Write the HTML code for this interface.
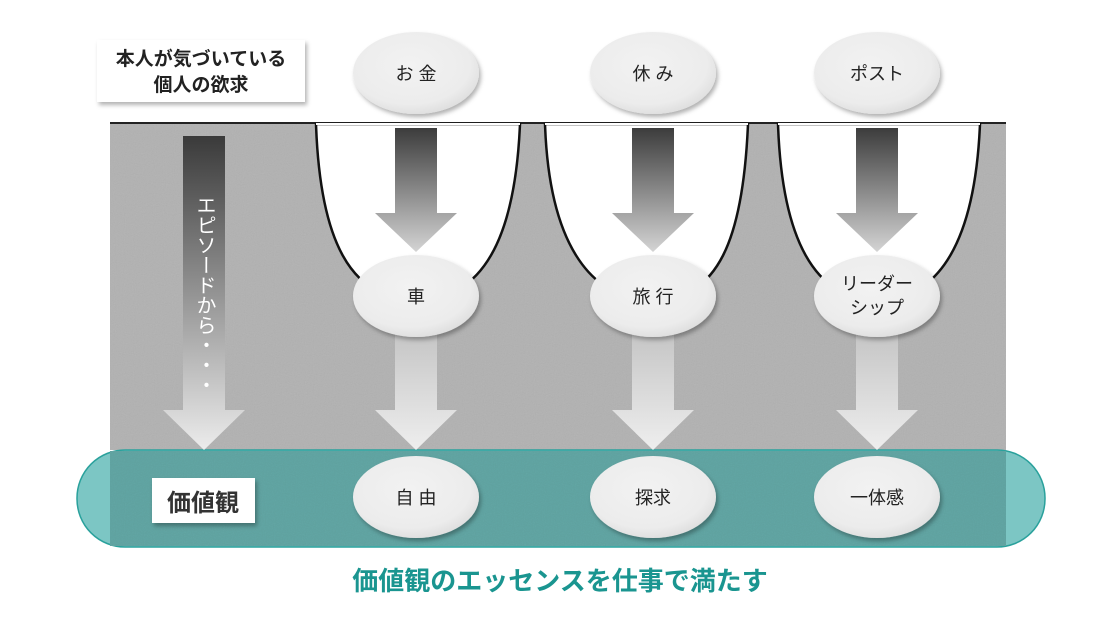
<!DOCTYPE html>
<html><head><meta charset="utf-8"><style>
html,body{margin:0;padding:0;background:#fff;}
svg{display:block;}
text{font-family:"Liberation Sans","Noto Sans CJK JP",sans-serif;}
</style></head><body>
<svg width="1120" height="632" viewBox="0 0 1120 632" xmlns="http://www.w3.org/2000/svg">
<defs>
<filter id="noise" x="0" y="0" width="100%" height="100%">
<feTurbulence type="fractalNoise" baseFrequency="0.9" numOctaves="2" seed="3" result="n"/>
<feColorMatrix type="saturate" values="0" in="n" result="g"/>
<feComponentTransfer in="g" result="g2"><feFuncA type="linear" slope="0" intercept="0.15"/></feComponentTransfer>
<feBlend in="SourceGraphic" in2="g2" mode="multiply"/>
</filter>
<linearGradient id="ga" x1="0" y1="0" x2="0" y2="1"><stop offset="0" stop-color="#3c3c3c"/><stop offset="1" stop-color="#d4d4d4"/></linearGradient>
<linearGradient id="gb" x1="0" y1="0" x2="0" y2="1"><stop offset="0" stop-color="#c4c4c4"/><stop offset="1" stop-color="#eeeeee"/></linearGradient>
<linearGradient id="gl" x1="0" y1="0" x2="0" y2="1"><stop offset="0" stop-color="#3a3a3a"/><stop offset="1" stop-color="#ececec"/></linearGradient>
<radialGradient id="ge" cx="0.45" cy="0.4" r="0.6"><stop offset="0" stop-color="#f2f2f2"/><stop offset="0.8" stop-color="#ececec"/><stop offset="1" stop-color="#e0e0e0"/></radialGradient>
<filter id="sh" x="-20%" y="-20%" width="150%" height="150%"><feDropShadow dx="2" dy="3" stdDeviation="2" flood-color="#000" flood-opacity="0.3"/></filter>
</defs>
<rect x="110" y="122" width="896" height="328" fill="#b8b8b8" filter="url(#noise)"/>
<line x1="110" y1="123" x2="1006" y2="123" stroke="#222" stroke-width="2"/>
<rect x="77" y="450" width="968" height="97" rx="48" fill="#7cc6c4" stroke="#2aa19c" stroke-width="1.5"/>
<rect x="110" y="451" width="896" height="95" fill="#64a9a7" filter="url(#noise)"/>
<g fill="#fff" stroke="#111" stroke-width="2.5">
<path d="M316,124 C320,240 350,300 416,300 C482,300 515,240 520,124 Z"/>
<path d="M545,124 C549,240 588,300 653,300 C718,300 743,240 748,124 Z"/>
<path d="M778,124 C782,240 815,300 877,300 C940,300 975,240 980,124 Z"/>
</g>
<line x1="316" y1="124" x2="520" y2="124" stroke="#fff" stroke-width="2"/>
<line x1="545" y1="124" x2="748" y2="124" stroke="#fff" stroke-width="2"/>
<line x1="778" y1="124" x2="980" y2="124" stroke="#fff" stroke-width="2"/>
<g fill="url(#ga)">
<path d="M395,128 H437 V213 H457 L416,252 L375,213 H395 Z"/>
<path d="M632,128 H674 V213 H694 L653,252 L612,213 H632 Z"/>
<path d="M856,128 H898 V213 H918 L877,252 L836,213 H856 Z"/>
</g>
<g fill="url(#gb)">
<path d="M395,330 H437 V410 H457 L416,450 L375,410 H395 Z"/>
<path d="M632,330 H674 V410 H694 L653,450 L612,410 H632 Z"/>
<path d="M856,330 H898 V410 H918 L877,450 L836,410 H856 Z"/>
</g>
<path d="M183,136 H225 V410 H245 L204,450 L163,410 H183 Z" fill="url(#gl)"/>
<text fill="#fff" font-size="20" x="204" y="195" style="writing-mode:vertical-rl">エピソードから・・・</text>
<rect x="97" y="40" width="208" height="62" fill="#fff" filter="url(#sh)"/>
<text x="201" y="65" font-size="19" font-weight="bold" text-anchor="middle" fill="#222">本人が気づいている</text>
<text x="201" y="91" font-size="19" font-weight="bold" text-anchor="middle" fill="#222">個人の欲求</text>
<g fill="url(#ge)" filter="url(#sh)">
<ellipse cx="416" cy="73" rx="63" ry="41"/>
<ellipse cx="653" cy="73" rx="63" ry="41"/>
<ellipse cx="877" cy="73" rx="63" ry="41"/>
<ellipse cx="416" cy="296" rx="63" ry="41"/>
<ellipse cx="653" cy="296" rx="63" ry="41"/>
<ellipse cx="877" cy="296" rx="63" ry="41"/>
<ellipse cx="416" cy="497" rx="63" ry="41"/>
<ellipse cx="653" cy="497" rx="63" ry="41"/>
<ellipse cx="877" cy="497" rx="63" ry="41"/>
</g>
<g font-size="18" text-anchor="middle" fill="#222">
<text x="416" y="80">お 金</text>
<text x="653" y="80">休 み</text>
<text x="877" y="80">ポスト</text>
<text x="416" y="303">車</text>
<text x="653" y="303">旅 行</text>
<text x="877" y="290">リーダー</text>
<text x="877" y="314">シップ</text>
<text x="416" y="504">自 由</text>
<text x="653" y="504">探求</text>
<text x="877" y="504">一体感</text>
</g>
<rect x="152" y="478" width="103" height="45" fill="#fff" filter="url(#sh)"/>
<text x="203" y="511" font-size="24" font-weight="bold" text-anchor="middle" fill="#333">価値観</text>
<text x="560" y="590" font-size="26" font-weight="bold" text-anchor="middle" fill="#1a9590">価値観のエッセンスを仕事で満たす</text>
</svg>
</body></html>
